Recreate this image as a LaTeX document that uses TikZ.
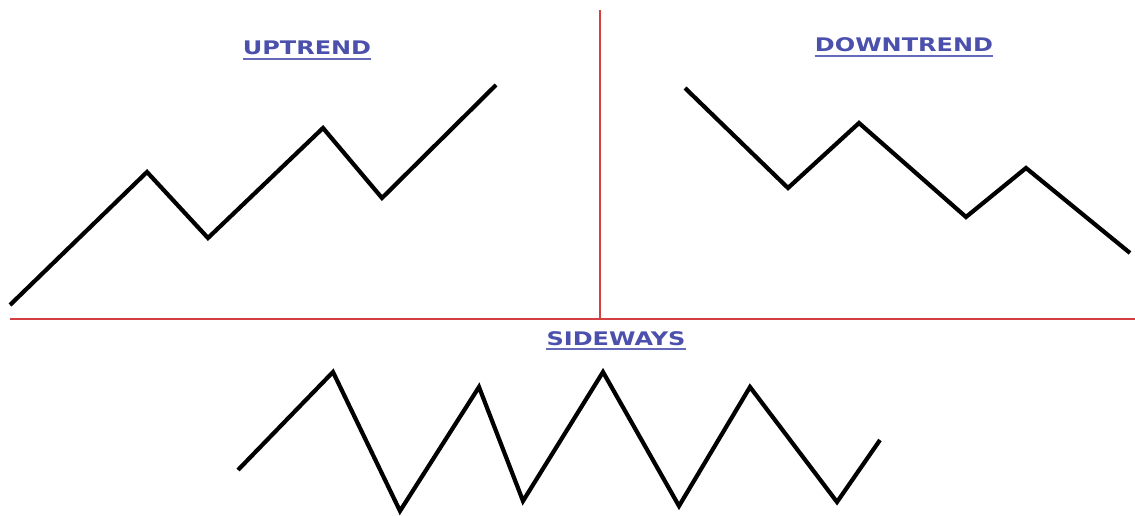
\documentclass[tikz,border=0pt]{standalone}
\usepackage{fontspec}
\setmainfont{DejaVu Sans}
\usepackage{graphicx}
\definecolor{ttlblue}{RGB}{74,80,172}
\definecolor{divred}{RGB}{212,62,62}
\tikzset{
  title/.style={inner sep=0pt, text=ttlblue, font=\fontsize{24}{24}\selectfont\bfseries},
  uline/.style={draw=ttlblue!85, line width=2.2pt},
  divider/.style={draw=divred, line width=1.8pt},
  trend/.style={draw=black, line width=4.2pt, line join=miter, line cap=butt}
}
\begin{document}
\begin{tikzpicture}[x=1pt,y=-1pt]
\useasboundingbox (0,0) rectangle (1135,516);
% dividers
\coordinate (hl) at (10,319);
\coordinate (hr) at (1135,319);
\coordinate (vt) at (600,10);
\coordinate (vb) at (600,319);
\draw[divider] (hl) -- (hr);
\draw[divider] (vt) -- (vb);
% titles
\node[title] (up) at (307,48) {\scalebox{1}[0.78]{UPTREND}};
\node[title] (down) at (904,45) {\scalebox{1}[0.78]{DOWNTREND}};
\node[title] (side) at (616,338.5) {\scalebox{1}[0.78]{SIDEWAYS}};
\draw[uline] ([yshift=-3.5pt]up.south west) -- ([yshift=-3.5pt]up.south east);
\draw[uline] ([yshift=-3.5pt]down.south west) -- ([yshift=-3.5pt]down.south east);
\draw[uline] ([yshift=-3.5pt]side.south west) -- ([yshift=-3.5pt]side.south east);
% uptrend
\coordinate (u1) at (10,305);
\coordinate (u2) at (147,172);
\coordinate (u3) at (208,238);
\coordinate (u4) at (323,128);
\coordinate (u5) at (382,198);
\coordinate (u6) at (496,85);
\draw[trend] (u1) -- (u2) -- (u3) -- (u4) -- (u5) -- (u6);
% downtrend
\coordinate (d1) at (685,88);
\coordinate (d2) at (788,188);
\coordinate (d3) at (859,123);
\coordinate (d4) at (966,217);
\coordinate (d5) at (1026,168);
\coordinate (d6) at (1130,253);
\draw[trend] (d1) -- (d2) -- (d3) -- (d4) -- (d5) -- (d6);
% sideways
\coordinate (s1) at (238,470);
\coordinate (s2) at (333,372);
\coordinate (s3) at (400,511);
\coordinate (s4) at (479,387);
\coordinate (s5) at (523,501);
\coordinate (s6) at (603,372);
\coordinate (s7) at (679,506);
\coordinate (s8) at (750,387);
\coordinate (s9) at (837,502);
\coordinate (s10) at (880,440);
\draw[trend] (s1) -- (s2) -- (s3) -- (s4) -- (s5) -- (s6) -- (s7) -- (s8) -- (s9) -- (s10);
\end{tikzpicture}
\end{document}
